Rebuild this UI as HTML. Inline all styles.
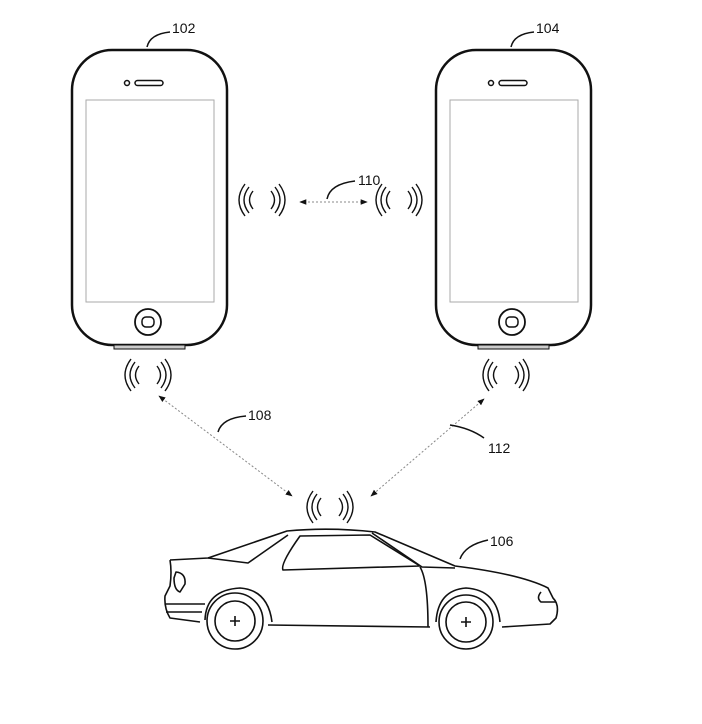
<!DOCTYPE html>
<html><head><style>body{margin:0;background:#fff}svg{display:block}text{font-family:"Liberation Sans",sans-serif;font-size:14px;fill:#111}</style></head><body>
<svg width="702" height="724" viewBox="0 0 702 724" xmlns="http://www.w3.org/2000/svg">
<defs>
<g id="w" fill="none" stroke="#111" stroke-width="1.4">
<path d="M-17,-16 Q-29,0 -17,16"/><path d="M-13,-13 Q-23,0 -13,13"/><path d="M-9,-9 Q-16,0 -9,9"/>
<path d="M17,-16 Q29,0 17,16"/><path d="M13,-13 Q23,0 13,13"/><path d="M9,-9 Q16,0 9,9"/>
</g>
<g id="p">
<rect x="72" y="50" width="155" height="295" rx="40" fill="#fff" stroke="#111" stroke-width="2.5"/>
<rect x="86" y="100" width="128" height="202" fill="none" stroke="#aaa" stroke-width="1"/>
<circle cx="127" cy="83" r="2.5" fill="none" stroke="#111" stroke-width="1.5"/>
<rect x="135" y="80.5" width="28" height="5" rx="2.5" fill="none" stroke="#111" stroke-width="1.5"/>
<circle cx="148" cy="322" r="13" fill="none" stroke="#111" stroke-width="1.8"/>
<rect x="142" y="317" width="12" height="10" rx="4" fill="none" stroke="#111" stroke-width="1.5"/>
<rect x="114" y="345" width="71" height="4" fill="#ccc" stroke="#111" stroke-width="1"/>
</g>
<marker id="a" viewBox="0 0 10 10" refX="9" refY="5" markerWidth="7" markerHeight="7" orient="auto-start-reverse"><path d="M0,1 L10,5 L0,9z" fill="#111"/></marker>
</defs>
<use href="#p"/>
<use href="#p" x="364"/>
<path d="M147,47 Q150,34 170,32" fill="none" stroke="#111" stroke-width="1.5"/><text x="172" y="33">102</text>
<path d="M511,47 Q514,34 534,32" fill="none" stroke="#111" stroke-width="1.5"/><text x="536" y="33">104</text>
<use href="#w" x="262" y="200"/><use href="#w" x="399" y="200"/>
<use href="#w" x="148" y="375"/><use href="#w" x="506" y="375"/>
<use href="#w" x="330" y="507"/>
<g stroke="#888" stroke-width="1" stroke-dasharray="2,2" fill="none">
<line x1="300" y1="202" x2="367" y2="202" marker-start="url(#a)" marker-end="url(#a)"/>
<line x1="159" y1="396" x2="292" y2="496" marker-start="url(#a)" marker-end="url(#a)"/>
<line x1="484" y1="399" x2="371" y2="496" marker-start="url(#a)" marker-end="url(#a)"/>
</g>
<path d="M327,199 Q330,184 355,181" fill="none" stroke="#111" stroke-width="1.5"/><text x="358" y="185">110</text>
<path d="M218,432 Q222,418 246,416" fill="none" stroke="#111" stroke-width="1.5"/><text x="248" y="420">108</text>
<path d="M450,425 Q470,428 484,438" fill="none" stroke="#111" stroke-width="1.5"/><text x="488" y="453">112</text>
<path d="M460,559 Q465,545 488,540" fill="none" stroke="#111" stroke-width="1.5"/><text x="490" y="546">106</text>
<g fill="none" stroke="#111" stroke-width="1.6" stroke-linejoin="round">
<path d="M170,560 L208,558 L287,531 Q330,527 375,532 L455,566 Q520,574 548,588 L553,598 Q560,605 556,618 L550,624 L502,627 M430,627 L268,625 M200,622 L170,618 Q164,608 165,596 L170,586 Q172,572 170,560"/>
<path d="M208,558 L248,563 L288,535"/>
<path d="M300,536 L370,535 L420,566 L283,570 Q280,564 300,536 Z"/>
<path d="M372,533 L422,567 L455,568"/>
<path d="M420,567 Q428,580 428,627"/>
<path d="M176,572 Q186,573 185,584 L180,592 Q174,590 174,578Z"/>
<path d="M165,604 L205,604 M166,612 L202,612"/>
<path d="M541,592 Q536,598 541,602 L556,602"/>
<circle cx="235" cy="621" r="28"/><circle cx="235" cy="621" r="20"/>
<circle cx="466" cy="622" r="27"/><circle cx="466" cy="622" r="20"/>
<path d="M205,620 Q206,590 240,588 Q268,590 272,622"/>
<path d="M436,622 Q438,590 466,588 Q497,590 500,622"/>
<path d="M230,621h10M235,616v10M461,622h10M466,617v10"/>
</g>
</svg>
</body></html>
